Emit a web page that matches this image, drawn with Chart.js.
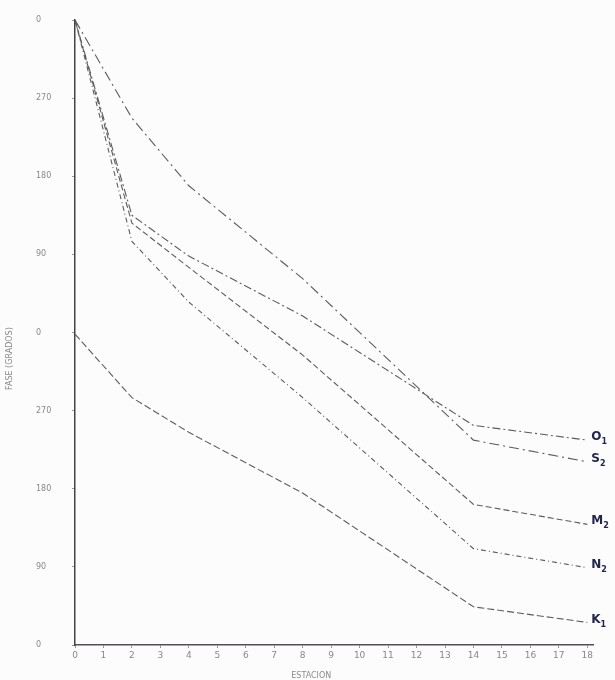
<!DOCTYPE html>
<html>
<head>
<meta charset="utf-8">
<script src="https://cdn.jsdelivr.net/npm/chart.js@4/dist/chart.umd.min.js"></script>
<style>
  html, body { margin: 0; padding: 0; background: #fbfcfb; }
  #wrap { width: 615px; height: 680px; }
</style>
</head>
<body>
<div id="wrap"><canvas id="chart" width="615" height="680"></canvas></div>
<script>
// stations along the x axis
const stations = [0, 2, 4, 8, 14, 18];

// phase values (degrees, unwrapped over 0..720)
const seriesNames = ["O1", "S2", "M2", "N2", "K1"];
const o1 = [720, 495, 448, 379, 253, 236];
const s2 = [720, 607, 529, 422, 236, 211];
const m2 = [720, 486, 435, 334, 162, 139];
const n2 = [720, 465, 395, 285, 111, 89];
const k1 = [358, 285, 245, 175, 44, 26];

const xTicks = [0, 1, 2, 3, 4, 5, 6, 7, 8, 9, 10, 11, 12, 13, 14, 15, 16, 17, 18];
const yTicks = [0, 90, 180, 270, 360, 450, 540, 630, 720];

const seriesValues = [o1, s2, m2, n2, k1];
const dashes = [[8, 3, 2, 3], [10, 4, 2, 4], [6, 3], [5, 3, 1, 3], [7, 3]];

const datasets = seriesValues.map((vals, i) => ({
  label: seriesNames[i],
  data: stations.map((s, j) => ({ x: s, y: vals[j] })),
  borderColor: "#5c5c5c",
  borderWidth: 1.1,
  borderDash: dashes[i],
  pointRadius: 0,
  tension: 0,
  fill: false,
}));

// names at the end of each curve, with subscript digit
const endLabels = {
  id: "endLabels",
  afterDatasetsDraw(chart) {
    const { ctx } = chart;
    ctx.save();
    ctx.fillStyle = "#23264a";
    ctx.textBaseline = "middle";
    chart.data.datasets.forEach((ds, i) => {
      const meta = chart.getDatasetMeta(i);
      const pt = meta.data[meta.data.length - 1];
      const name = ds.label;
      const x = pt.x + 4;
      const y = pt.y - 3;
      ctx.font = "bold 12px 'DejaVu Sans'";
      ctx.fillText(name[0], x, y);
      const w = ctx.measureText(name[0]).width;
      ctx.font = "bold 8px 'DejaVu Sans'";
      ctx.fillText(name.slice(1), x + w, y + 5);
    });
    ctx.restore();
  },
};

// axis titles, faint as in the scan
const axisTitles = {
  id: "axisTitles",
  afterDraw(chart) {
    const { ctx, scales } = chart;
    ctx.save();
    ctx.fillStyle = "#8a8a8a";
    ctx.font = "8px 'DejaVu Sans'";
    ctx.textAlign = "center";
    ctx.textBaseline = "middle";
    ctx.fillText("ESTACION", scales.x.getPixelForValue(8.3), 676);
    ctx.translate(10, scales.y.getPixelForValue(330));
    ctx.rotate(-Math.PI / 2);
    ctx.fillText("FASE (GRADOS)", 0, 0);
    ctx.restore();
  },
};

new Chart(document.getElementById("chart"), {
  type: "line",
  data: { datasets },
  options: {
    responsive: false,
    animation: false,
    layout: { padding: { left: 36, right: 22, top: 20, bottom: 0 } },
    plugins: { legend: { display: false }, tooltip: { enabled: false } },
    scales: {
      x: {
        type: "linear",
        min: 0,
        max: 18.2,
        afterBuildTicks: (scale) => {
          scale.ticks = xTicks.map((v) => ({ value: v }));
        },
        afterFit: (scale) => { scale.height = 35; },
        ticks: {
          color: "#888",
          font: { size: 9, family: "DejaVu Sans" },
          padding: 2,
          maxRotation: 0,
          autoSkip: false,
        },
        grid: { drawOnChartArea: false, tickLength: 3, color: "#999" },
        border: { color: "#5a4a5e", width: 1.5 },
      },
      y: {
        type: "linear",
        min: 0,
        max: 720,
        afterBuildTicks: (scale) => {
          scale.ticks = yTicks.map((v) => ({ value: v }));
        },
        afterFit: (scale) => { scale.width = 39; },
        ticks: {
          color: "#888",
          font: { size: 8, family: "DejaVu Sans" },
          crossAlign: "far",
          callback: (v) => String(v % 360),
        },
        grid: { drawOnChartArea: false, tickLength: 3, color: "#999" },
        border: { color: "#444", width: 1.5 },
      },
    },
  },
  plugins: [endLabels, axisTitles],
});
</script>
</body>
</html>
